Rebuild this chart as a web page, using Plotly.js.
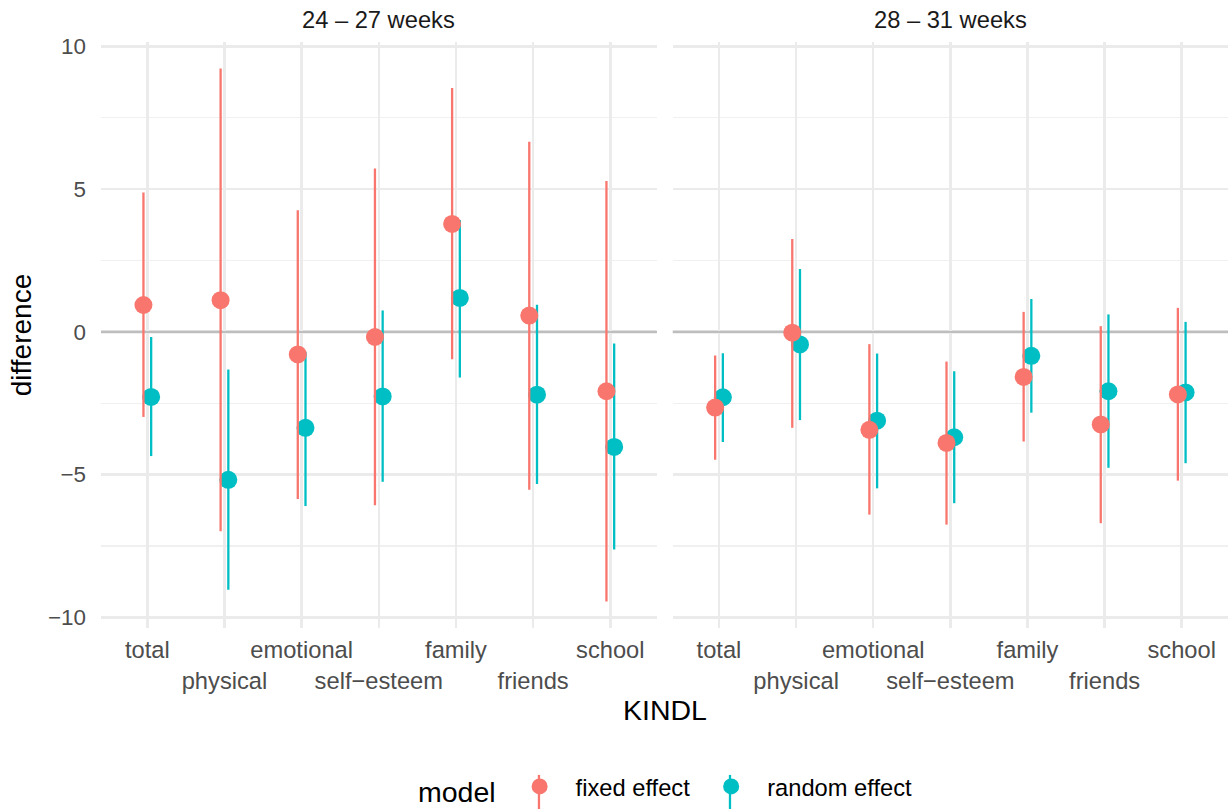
<!DOCTYPE html>
<html>
<head>
<meta charset="utf-8">
<script src="https://cdn.plot.ly/plotly-3.0.1.min.js"></script>
<style>html,body{margin:0;padding:0;background:#fff}#chart{width:1228px;height:809px}</style>
</head>
<body>
<div id="chart"></div>
<script>
// ---- data ----
const categories = ['total', 'physical', 'emotional', 'self\u2212esteem', 'family', 'friends', 'school'];
const panels = ['24 \u2013 27 weeks', '28 \u2013 31 weeks'];
const models = ['fixed effect', 'random effect'];
const yTickVals = [-10, -5, 0, 5, 10];
const yTickText = ['\u221210', '\u22125', '0', '5', '10'];
const yMinorVals = [-7.5, -2.5, 2.5, 7.5];
const refLine = 0;

// panel 1: 24 – 27 weeks
const p1FixedEst   = [0.94, 1.11, -0.79, -0.18, 3.78, 0.57, -2.08];
const p1FixedLow   = [-2.98, -6.98, -5.85, -6.07, -0.96, -5.53, -9.44];
const p1FixedHigh  = [4.88, 9.22, 4.26, 5.72, 8.54, 6.66, 5.28];
const p1RandomEst  = [-2.28, -5.18, -3.36, -2.26, 1.19, -2.20, -4.03];
const p1RandomLow  = [-4.35, -9.03, -6.10, -5.25, -1.60, -5.33, -7.62];
const p1RandomHigh = [-0.18, -1.32, -0.70, 0.75, 3.92, 0.95, -0.41];

// panel 2: 28 – 31 weeks
const p2FixedEst   = [-2.65, -0.03, -3.43, -3.89, -1.58, -3.24, -2.19];
const p2FixedLow   = [-4.48, -3.36, -6.40, -6.75, -3.84, -6.70, -5.21];
const p2FixedHigh  = [-0.83, 3.25, -0.43, -1.04, 0.70, 0.20, 0.84];
const p2RandomEst  = [-2.29, -0.44, -3.11, -3.69, -0.84, -2.08, -2.12];
const p2RandomLow  = [-3.86, -3.09, -5.48, -6.00, -2.83, -4.76, -4.60];
const p2RandomHigh = [-0.75, 2.20, -0.76, -1.38, 1.15, 0.61, 0.35];

// ---- style ----
const colors = {'fixed effect': '#F8766D', 'random effect': '#00BFC4'};
const dodge = {'fixed effect': -0.05, 'random effect': 0.05};
const FONT = 'Liberation Sans, Arial, Helvetica, sans-serif';
const TEXT_SIZE = 23.7;

const series = [
  {panel: 0, model: 'fixed effect', est: p1FixedEst, lo: p1FixedLow, hi: p1FixedHigh},
  {panel: 0, model: 'random effect', est: p1RandomEst, lo: p1RandomLow, hi: p1RandomHigh},
  {panel: 1, model: 'fixed effect', est: p2FixedEst, lo: p2FixedLow, hi: p2FixedHigh},
  {panel: 1, model: 'random effect', est: p2RandomEst, lo: p2RandomLow, hi: p2RandomHigh}
];

// draw random first so fixed effect sits on top
const order = s => (s.model === 'random effect' ? 0 : 1);
const traces = series.slice().sort((a, b) => order(a) - order(b)).map(s => ({
  type: 'scatter',
  mode: 'markers',
  name: s.model,
  legendgroup: s.model,
  legendrank: models.indexOf(s.model) + 1,
  showlegend: s.panel === 0,
  xaxis: s.panel === 0 ? 'x' : 'x2',
  yaxis: s.panel === 0 ? 'y' : 'y2',
  x: categories.map((c, i) => i + 1 + dodge[s.model]),
  y: s.est,
  error_y: {
    type: 'data', symmetric: false,
    array: s.hi.map((h, i) => h - s.est[i]),
    arrayminus: s.lo.map((l, i) => s.est[i] - l),
    width: 0, thickness: 2.3, color: colors[s.model]
  },
  marker: {size: 18, color: colors[s.model], line: {width: 0}},
  hoverinfo: 'skip'
}));

const tickText = categories.map((c, i) => (i % 2 === 1 ? '<br>' + c : c));
const xBase = {
  range: [0.4, 7.6],
  tickmode: 'array',
  tickvals: categories.map((c, i) => i + 1),
  ticktext: tickText,
  tickangle: 0,
  showgrid: true, gridcolor: '#EBEBEB', gridwidth: 2.5,
  zeroline: false, showline: false, ticks: '',
  ticklabelstandoff: 5,
  tickfont: {family: FONT, size: TEXT_SIZE, color: '#4D4D4D'},
  fixedrange: true
};
const yBase = {
  range: [-10.37, 10.15],
  tickmode: 'array', tickvals: yTickVals, ticktext: yTickText,
  showgrid: true, gridcolor: '#EBEBEB', gridwidth: 2.5,
  minor: {tickmode: 'array', tickvals: yMinorVals, showgrid: true, gridcolor: '#F0F0F0', gridwidth: 1.3, ticks: ''},
  zeroline: true, zerolinecolor: '#BEBEBE', zerolinewidth: 2.7,
  showline: false, ticks: '',
  ticklabelstandoff: 14,
  tickfont: {family: FONT, size: 22.4, color: '#4D4D4D'},
  fixedrange: true
};

// legend glyph stems (pointrange look), in paper coordinates
const legendStemX = {'fixed effect': 0.3886, 'random effect': 0.5581};
const stemShapes = models.map(m => ({
  type: 'line', xref: 'paper', yref: 'paper',
  x0: legendStemX[m], x1: legendStemX[m], y0: -0.2507, y1: -0.31, layer: 'above',
  line: {color: colors[m], width: 2.3}
}));
// horizontal reference line at 0 in each panel (under the marks)
const refShapes = ['x', 'x2'].map(ax => ({
  type: 'line', xref: ax + ' domain', yref: ax === 'x' ? 'y' : 'y2',
  x0: 0, x1: 1, y0: refLine, y1: refLine, layer: 'below',
  line: {color: '#BEBEBE', width: 2.7}
}));

const layout = {
  width: 1228, height: 809,
  margin: {l: 101, r: 0, t: 42, b: 181, pad: 0, autoexpand: false},
  paper_bgcolor: '#fff', plot_bgcolor: '#fff',
  font: {family: FONT, color: '#000'},
  showlegend: true,
  xaxis: Object.assign({}, xBase, {domain: [0, 0.493], anchor: 'y'}),
  xaxis2: Object.assign({}, xBase, {domain: [0.5073, 1], anchor: 'y2'}),
  yaxis: Object.assign({}, yBase, {
    domain: [0, 1], anchor: 'x',
    title: {text: 'difference', font: {family: FONT, size: 28, color: '#000'}, standoff: 8}
  }),
  yaxis2: Object.assign({}, yBase, {domain: [0, 1], anchor: 'x2', matches: 'y', showticklabels: false}),
  legend: {
    orientation: 'h', x: 0.2795, xanchor: 'left', y: -0.2739, yanchor: 'middle',
    title: {text: 'model', side: 'left', font: {family: FONT, size: 28.5, color: '#000'}},
    font: {family: FONT, size: TEXT_SIZE, color: '#000'},
    itemwidth: 62,
    bgcolor: 'rgba(0,0,0,0)', itemclick: false, itemdoubleclick: false
  },
  shapes: refShapes.concat(stemShapes),
  annotations: [
    {text: panels[0], xref: 'x domain', yref: 'paper', x: 0.5, y: 1, yanchor: 'middle', yshift: 22, showarrow: false,
     font: {family: FONT, size: TEXT_SIZE, color: '#1A1A1A'}},
    {text: panels[1], xref: 'x2 domain', yref: 'paper', x: 0.5, y: 1, yanchor: 'middle', yshift: 22, showarrow: false,
     font: {family: FONT, size: TEXT_SIZE, color: '#1A1A1A'}},
    {text: 'KINDL', xref: 'paper', yref: 'paper', x: 0.5, y: 0, yanchor: 'middle', yshift: -82, showarrow: false,
     font: {family: FONT, size: 28.5, color: '#000'}}
  ]
};

Plotly.newPlot('chart', traces, layout, {displayModeBar: false, staticPlot: true});
</script>
</body>
</html>
